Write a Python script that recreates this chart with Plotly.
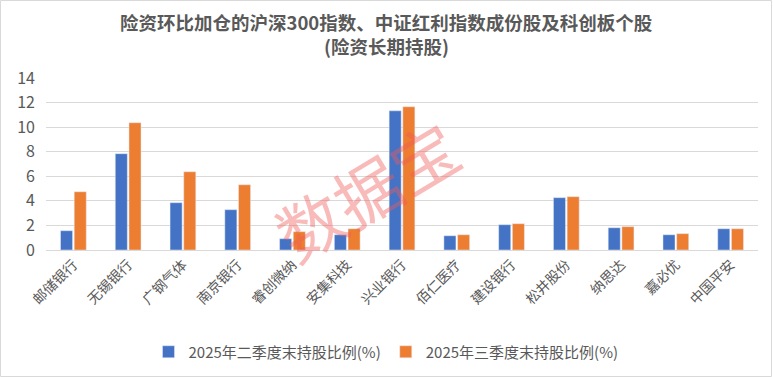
import plotly.graph_objects as go

categories = ["邮储银行", "无锡银行", "广钢气体", "南京银行", "睿创微纳", "安集科技", "兴业银行",
              "佰仁医疗", "建设银行", "松井股份", "纳思达", "嘉必优", "中国平安"]
q2_values = [1.57, 7.84, 3.85, 3.28, 0.92, 1.24, 11.33, 1.16, 2.06, 4.26, 1.81, 1.24, 1.73]
q3_values = [4.74, 10.36, 6.37, 5.31, 1.49, 1.73, 11.66, 1.24, 2.14, 4.34, 1.90, 1.33, 1.73]
series_names = ["2025年二季度末持股比例(%)", "2025年三季度末持股比例(%)"]
y_ticks = [0, 2, 4, 6, 8, 10, 12, 14]
title_lines = ["险资环比加仓的沪深300指数、中证红利指数成份股及科创板个股", "(险资长期持股)"]

FONT = "Noto Sans CJK SC"
TXT = "#595959"
PH = 172.0  # plot height px
PW = 712.0  # plot width px

fig = go.Figure()
fig.add_trace(go.Bar(x=categories, y=q2_values, name=series_names[0], marker_color="#4472C4"))
fig.add_trace(go.Bar(x=categories, y=q3_values, name=series_names[1], marker_color="#ED7D31"))

fig.update_layout(
    width=773, height=377,
    margin=dict(l=46, r=15, t=78, b=127, autoexpand=False),
    paper_bgcolor="white", plot_bgcolor="white",
    font=dict(family=FONT, color=TXT, size=13),
    barmode="group", bargap=0.5, bargroupgap=0.12,
    legend=dict(orientation="h", x=(386 - 46) / PW, xanchor="center", y=-(352 - 250) / PH,
                yanchor="middle", font=dict(family=FONT, size=15, color=TXT),
                traceorder="normal", itemwidth=30, tracegroupgap=0),
    showlegend=True,
)
fig.update_yaxes(range=[0, 14], tickvals=y_ticks, showgrid=True, gridcolor="#D9D9D9", gridwidth=1,
                 zeroline=False, showline=False, tickfont=dict(size=16, color=TXT), ticks="",
                 ticklabelstandoff=10, automargin=False)
fig.update_xaxes(tickangle=-45, showline=True, linecolor="#D9D9D9", linewidth=1, ticks="",
                 tickfont=dict(size=14, color=TXT), automargin=False)

# title (two lines)
for line, ypx in zip(title_lines, [22, 46]):
    fig.add_annotation(text="<b>" + line + "</b>", xref="paper", yref="paper",
                       x=(386 - 46) / PW, y=(250 - ypx) / PH, xanchor="center", yanchor="middle",
                       showarrow=False, font=dict(family=FONT, size=18.5, color=TXT))
# watermark
fig.add_annotation(text="数据宝", xref="paper", yref="paper", x=(366 - 46) / PW, y=(250 - 189) / PH,
                   showarrow=False, textangle=-31,
                   font=dict(family=FONT, size=66, color="rgba(240,90,90,0.42)"))
# frame
fig.add_shape(type="rect", xref="paper", yref="paper", x0=-45.5 / PW, x1=1 + 13.5 / PW,
              y0=-126.5 / PH, y1=1 + 77.5 / PH, line=dict(color="#D9D9D9", width=1))

fig.write_html("out.html", config={"displayModeBar": False},
               post_script="document.body.style.margin='0';document.body.style.overflow='hidden';")
